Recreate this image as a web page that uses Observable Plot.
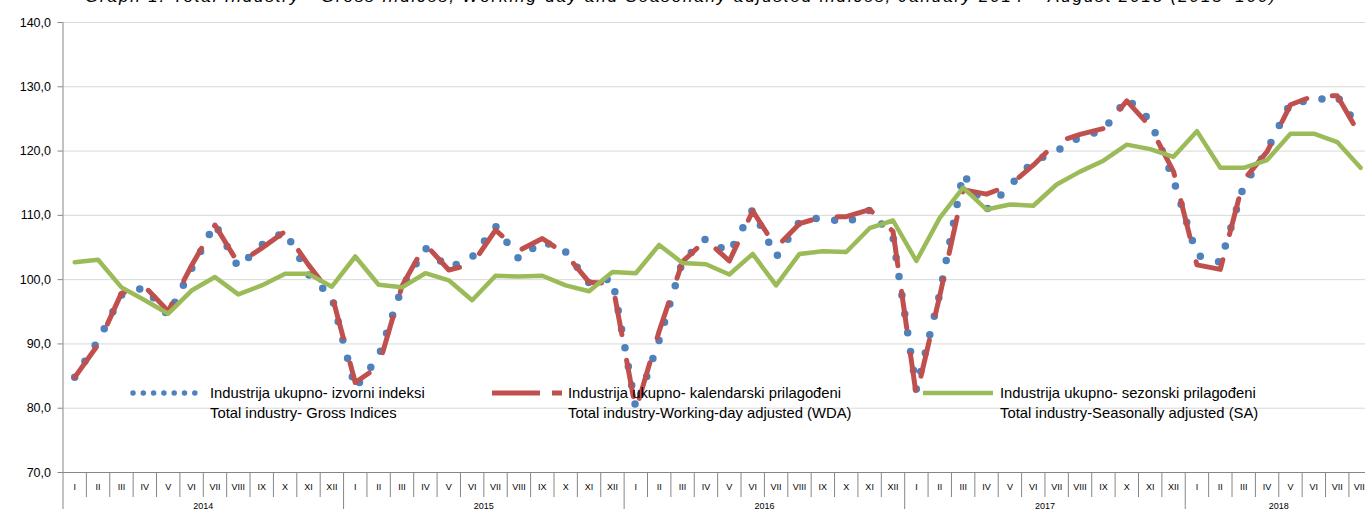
<!DOCTYPE html>
<html>
<head>
<meta charset="utf-8">
<script src="https://cdn.jsdelivr.net/npm/d3@7"></script>
<script src="https://cdn.jsdelivr.net/npm/@observablehq/plot@0.6"></script>
<style>
html, body { margin: 0; padding: 0; background: #fff; overflow: hidden; width: 1365px; height: 509px; }
#wrap { position: relative; width: 1365px; height: 509px; overflow: hidden; font-family: "Liberation Sans", Arial, sans-serif; }
#titlesvg { position: absolute; left: 0; top: 0; }
#chart { position: absolute; left: 0; top: 0; width: 1380px; }
#chart svg { max-width: none !important; }
.legtxt { position: absolute; font-size: 14.8px; line-height: 18px; color: #000; white-space: nowrap; }
.sw { position: absolute; }
</style>
</head>
<body>
<div id="wrap">
  <div id="chart"></div>
  <svg id="titlesvg" width="1365" height="12">
    <text x="85" y="2" font-family="Liberation Sans, Arial, sans-serif" font-style="italic" font-size="17" textLength="1190" lengthAdjust="spacing" fill="#000">Graph 1. Total Industry - Gross Indices, Working-day and Seasonally adjusted indices, January 2014 – August 2018 (2015=100)</text>
  </svg>
  <svg class="sw" style="left:128px;top:386px" width="82" height="14">
    <line x1="5" y1="7" x2="77" y2="7" stroke="#4F81BD" stroke-width="5.5" stroke-dasharray="0 10.3" stroke-linecap="round"/>
  </svg>
  <div class="legtxt" style="left:210px;top:384px">Industrija ukupno- izvorni indeksi</div>
  <div class="legtxt" style="left:210px;top:404px">Total industry- Gross Indices</div>
  <svg class="sw" style="left:488px;top:386px" width="80" height="14">
    <line x1="4" y1="7" x2="74" y2="7" stroke="#C0504D" stroke-width="5" stroke-dasharray="48 12"/>
  </svg>
  <div class="legtxt" style="left:568px;top:384px">Industrija ukupno- kalendarski prilagođeni</div>
  <div class="legtxt" style="left:568px;top:404px">Total industry-Working-day adjusted (WDA)</div>
  <svg class="sw" style="left:918px;top:386px" width="80" height="14">
    <line x1="5" y1="7" x2="75" y2="7" stroke="#9BBB59" stroke-width="4.5"/>
  </svg>
  <div class="legtxt" style="left:1000px;top:384px">Industrija ukupno- sezonski prilagođeni</div>
  <div class="legtxt" style="left:1000px;top:404px">Total industry-Seasonally adjusted (SA)</div>
</div>
<script>
// ---- data ----
const monthLabels = ["I","II","III","IV","V","VI","VII","VIII","IX","X","XI","XII"];
const years = ["2014","2015","2016","2017","2018"];
const monthsPerYear = [12, 12, 12, 12, 8];
const yTicks = [70, 80, 90, 100, 110, 120, 130, 140];

const gross = [
  84.8, 90.5, 97.6, 98.8, 94.4, 101.7, 108.7, 101.9, 105.4, 107.5, 100.8, 97.3,
  83.1, 88.0, 98.8, 104.9, 101.8, 103.5, 108.3, 103.2, 106.0, 104.3, 99.5, 100.2,
  80.0, 90.6, 102.9, 106.4, 104.2, 110.9, 103.5, 109.0, 109.7, 108.8, 110.8, 106.6,
  82.9, 97.8, 116.5, 110.9, 114.6, 118.4, 120.0, 122.2, 123.2, 128.2, 124.8, 115.5,
  103.8, 102.7, 114.6, 120.1, 127.5, 127.9, 128.5, 123.3
];
const wda = [
  84.8, 89.9, 97.9, 98.9, 95.1, 102.2, 108.5, 102.5, 104.9, 107.5, 102.3, 97.6,
  84.0, 86.5, 99.0, 105.5, 101.5, 102.4, 107.7, 104.5, 106.4, 104.0, 99.6, 99.4,
  79.7, 92.0, 102.8, 106.2, 102.9, 110.7, 105.0, 108.7, 109.8, 109.8, 110.9, 107.5,
  81.9, 97.5, 114.0, 113.3, 114.7, 117.8, 121.4, 122.6, 123.5, 127.8, 123.8, 116.8,
  102.3, 101.6, 115.5, 119.9, 127.2, 128.6, 128.6, 122.3
];
const sa = [
  102.7, 103.1, 98.8, 96.8, 94.7, 98.3, 100.4, 97.7, 99.1, 100.9, 100.9, 98.9,
  103.6, 99.2, 98.8, 101.0, 99.9, 96.8, 100.6, 100.5, 100.6, 99.1, 98.2, 101.2,
  101.0, 105.4, 102.6, 102.4, 100.8, 104.0, 99.1, 104.0, 104.4, 104.3, 108.0, 109.2,
  102.9, 109.6, 114.3, 110.9, 111.7, 111.5, 114.8, 116.8, 118.5, 121.0, 120.3, 119.1,
  123.1, 117.4, 117.4, 118.6, 122.7, 122.7, 121.4, 117.4
];

// ---- derived tables ----
const n = gross.length;
const rows = gross.map((g, i) => ({ x: i + 0.5, gross: g, wda: wda[i], sa: sa[i] }));
const yearStarts = [];
{ let s = 0; for (const m of monthsPerYear) { yearStarts.push(s); s += m; } }
const yearCenters = yearStarts.map((s, k) => s + monthsPerYear[k] / 2);
const monthBounds = d3.range(0, n + 1).filter(b => !yearStarts.includes(b) && b !== n);
const monthCenters = d3.range(0, n).map(i => i + 0.5);

const fmt = d => d.toFixed(1).replace(".", ",");

const chart = Plot.plot({
  width: 1380,
  height: 525,
  marginLeft: 62.5,
  marginRight: 8.2,
  marginTop: 22,
  marginBottom: 53,
  style: { fontFamily: "Liberation Sans, Arial, sans-serif", background: "transparent", overflow: "visible", maxWidth: "none" },
  x: { type: "linear", domain: [0, n], axis: null },
  y: { domain: [70, 140], axis: null },
  marks: [
    Plot.ruleY(yTicks.filter(t => t > 70), { stroke: "#d9d9d9", strokeWidth: 1 }),
    Plot.axisY(yTicks, { tickSize: 5, tickPadding: 7, tickFormat: fmt, fontSize: 12.5, stroke: "#868686", fill: "#000" }),
    Plot.ruleX([0], { stroke: "#868686", strokeWidth: 1 }),
    Plot.ruleY([70], { stroke: "#868686", strokeWidth: 1 }),
    Plot.axisX(monthBounds, { tickSize: 25, tickFormat: () => "", stroke: "#868686" }),
    Plot.axisX(yearStarts, { tickSize: 50, tickFormat: () => "", stroke: "#868686" }),
    Plot.axisX(monthCenters, { tickSize: 0, tickPadding: 11, fontSize: 9, fill: "#000",
      tickFormat: v => monthLabels[Math.floor(v) % 12] }),
    Plot.axisX(yearCenters, { tickSize: 0, tickPadding: 30, fontSize: 9, fill: "#000",
      tickFormat: v => years[yearCenters.indexOf(v)] }),
    Plot.line(rows, { x: "x", y: "gross", stroke: "#4F81BD", strokeWidth: 7.5,
      strokeDasharray: "0 19", strokeLinecap: "round", strokeLinejoin: "round" }),
    Plot.line(rows, { x: "x", y: "wda", stroke: "#C0504D", strokeWidth: 5,
      strokeDasharray: "37 26", strokeLinecap: "round", strokeLinejoin: "round" }),
    Plot.line(rows, { x: "x", y: "sa", stroke: "#9BBB59", strokeWidth: 4.5,
      strokeLinejoin: "round" })
  ]
});
document.getElementById("chart").appendChild(chart);
</script>
</body>
</html>
